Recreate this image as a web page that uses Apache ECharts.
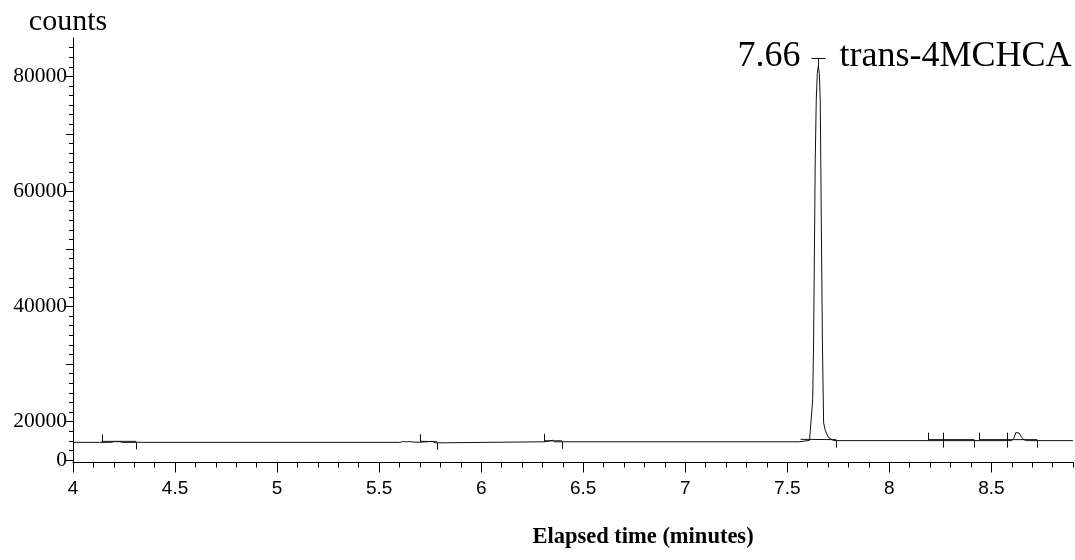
<!DOCTYPE html>
<html>
<head>
<meta charset="utf-8">
<script src="https://cdn.jsdelivr.net/npm/echarts@6/dist/echarts.min.js"></script>
<style>
html,body{margin:0;padding:0;background:#fff;}
#chart{width:1075px;height:560px;}
</style>
</head>
<body>
<div id="chart"></div>
<script>
// ---- data ----
const times  = [4.00, 4.13, 4.19, 4.20, 4.23, 4.24, 5.60, 5.62, 5.635, 5.65, 5.67, 5.70, 5.705, 5.76, 5.775, 5.83, 5.835,
                6.31, 6.315, 6.35, 6.36, 7.56, 7.565, 7.609, 7.6245, 7.629, 7.637, 7.642, 7.647, 7.652, 7.657, 7.6615,
                7.664, 7.672, 7.678, 7.686, 7.701, 7.726, 8.600, 8.610, 8.620, 8.628, 8.637, 8.648, 8.660, 8.676, 8.900];
const counts = [16400, 16400, 16400, 16520, 16520, 16400, 16400, 16550, 16480, 16560, 16430, 16420, 16580, 16580, 16330, 16330, 16500,
                16500, 16750, 16750, 16500, 16500, 16750, 16750, 23800, 34200, 65500, 75900, 80500, 81800, 80500, 75900,
                65500, 34200, 19800, 18500, 17300, 16700, 16700, 17100, 18100, 18400, 18000, 17300, 16850, 16700, 16700];

// integration tick marks on the trace
const markerTimes = [4.14, 4.31, 5.70, 5.784, 6.31, 6.395, 7.74, 8.19, 8.265, 8.417, 8.44, 8.578, 8.725];
const markerKinds = ['up', 'down', 'up', 'down', 'up', 'down', 'down', 'up', 'cross', 'down', 'up', 'cross', 'down'];

// integration baselines (start / end times)
const segStarts = [4.14, 5.70, 6.31, 7.565, 8.19, 8.44];
const segEnds   = [4.31, 5.784, 6.395, 7.74, 8.417, 8.725];

// peak annotation
const peakTimes  = [7.652];
const peakLabels = ['7.66'];
const peakNames  = ['trans-4MCHCA'];

// axis ticks
const xMin = 4, xMax = 8.9;
const xMajorTicks  = [4, 4.5, 5, 5.5, 6, 6.5, 7, 7.5, 8, 8.5];
const yMin = 12900, yMax = 86666.67;
const yLabelValues = [13333.33, 20000, 40000, 60000, 80000];
const yLabelTexts  = ['0', '20000', '40000', '60000', '80000'];
const yMidTicks    = [13333.33, 20000, 30000, 40000, 50000, 60000, 70000, 80000];
const yMinorStep   = 1666.667;

// ---- helpers ----
function valueAt(t) {
  for (let i = 0; i < times.length - 1; i++) {
    if (t >= times[i] && t <= times[i + 1]) {
      const f = (t - times[i]) / (times[i + 1] - times[i]);
      return counts[i] + f * (counts[i + 1] - counts[i]);
    }
  }
  return counts[counts.length - 1];
}
const xMinorTicks = [];
for (let k = 0; Math.round((4 + k * 0.1) * 10) / 10 <= xMax + 1e-9; k++) xMinorTicks.push(Math.round((4 + k * 0.1) * 10) / 10);
const yMinorTicks = [];
for (let v = 13333.33; v <= yMax + 1; v += yMinorStep) yMinorTicks.push(v);

const traceData  = times.map((t, i) => [t, counts[i]]);
const markerData = markerTimes.map((t, i) => [t, valueAt(t), markerKinds[i]]);
const segData    = segStarts.map((s, i) => [s, valueAt(s), segEnds[i], valueAt(segEnds[i])]);
const peakData   = peakTimes.map((t, i) => [t, valueAt(t), peakLabels[i], peakNames[i]]);

const lineColor = '#111';

const chart = echarts.init(document.getElementById('chart'), null, {renderer: 'canvas'});
chart.setOption({
  animation: false,
  backgroundColor: '#fff',
  title: [
    {text: 'counts', left: 68, top: 7, textAlign: 'center', padding: 0,
     textStyle: {fontFamily: 'Liberation Serif', fontSize: 30, fontWeight: 'normal', color: '#000'}},
    {text: 'Elapsed time (minutes)', left: 643, top: 526, textAlign: 'center', padding: 0,
     textStyle: {fontFamily: 'Liberation Serif', fontSize: 22.5, fontWeight: 'bold', color: '#000'}}
  ],
  grid: {left: 73, right: 2, top: 38, bottom: 97.5, containLabel: false},
  xAxis: [
    {type: 'value', min: xMin, max: xMax, position: 'bottom',
     axisLine: {show: true, lineStyle: {color: '#000', width: 1}},
     axisTick: {show: true, length: 5, customValues: xMinorTicks, lineStyle: {color: '#000'}},
     axisLabel: {show: false}, splitLine: {show: false}},
    {type: 'value', min: xMin, max: xMax, position: 'bottom',
     axisLine: {show: false},
     axisTick: {show: true, length: 10, customValues: xMajorTicks, lineStyle: {color: '#000'}},
     axisLabel: {show: true, customValues: xMajorTicks, margin: 17, fontFamily: 'Liberation Sans', fontSize: 19, color: '#000',
                 formatter: v => String(v)},
     splitLine: {show: false}}
  ],
  yAxis: [
    {type: 'value', min: yMin, max: yMax, position: 'left',
     axisLine: {show: true, lineStyle: {color: '#000', width: 1}},
     axisTick: {show: true, length: 7, customValues: yMidTicks, lineStyle: {color: '#000'}},
     axisLabel: {show: true, customValues: yLabelValues, margin: 6, fontFamily: 'Liberation Serif', fontSize: 21.5, color: '#000',
                 formatter: v => {
                   let best = 0;
                   yLabelValues.forEach((lv, i) => { if (Math.abs(lv - v) < Math.abs(yLabelValues[best] - v)) best = i; });
                   return yLabelTexts[best];
                 }},
     splitLine: {show: false}},
    {type: 'value', min: yMin, max: yMax, position: 'left',
     axisLine: {show: false},
     axisTick: {show: true, length: 4, customValues: yMinorTicks, lineStyle: {color: '#000'}},
     axisLabel: {show: false}, splitLine: {show: false}}
  ],
  series: [
    {type: 'line', xAxisIndex: 0, yAxisIndex: 0, data: traceData, showSymbol: false, symbol: 'none',
     lineStyle: {color: lineColor, width: 1}, z: 3},
    {type: 'custom', xAxisIndex: 0, yAxisIndex: 0, data: segData, clip: false, z: 4,
     renderItem: (params, api) => {
       const a = api.coord([api.value(0), api.value(1)]);
       const b = api.coord([api.value(2), api.value(3)]);
       return {type: 'line', shape: {x1: a[0], y1: a[1] - 1, x2: b[0], y2: b[1] - 1},
               style: {stroke: lineColor, lineWidth: 1}};
     }},
    {type: 'custom', xAxisIndex: 0, yAxisIndex: 0, data: markerData, clip: false, z: 5,
     renderItem: (params, api) => {
       const p = api.coord([api.value(0), api.value(1)]);
       const kind = markerData[params.dataIndex][2];
       const up = (kind === 'up' || kind === 'cross') ? 8 : 0;
       const down = (kind === 'down' || kind === 'cross') ? 7 : 0;
       const x = Math.round(p[0]) + 0.5;
       return {type: 'line', shape: {x1: x, y1: p[1] - up, x2: x, y2: p[1] + down},
               style: {stroke: lineColor, lineWidth: 1}};
     }},
    {type: 'custom', xAxisIndex: 0, yAxisIndex: 0, data: peakData, clip: false, z: 6,
     renderItem: (params, api) => {
       const p = api.coord([api.value(0), api.value(1)]);
       const d = peakData[params.dataIndex];
       const x = Math.round(p[0]) + 0.5;
       const yTop = Math.round(p[1] - 8) + 0.5;
       return {type: 'group', children: [
         {type: 'line', shape: {x1: x, y1: p[1], x2: x, y2: yTop}, style: {stroke: lineColor, lineWidth: 1}},
         {type: 'line', shape: {x1: x - 7, y1: yTop, x2: x + 7, y2: yTop}, style: {stroke: lineColor, lineWidth: 1}},
         {type: 'text', style: {text: d[2], x: x - 18, y: yTop - 2, align: 'right', verticalAlign: 'middle',
                                font: '36px "Liberation Serif"', fill: '#000'}},
         {type: 'text', style: {text: d[3], x: x + 21, y: yTop - 2, align: 'left', verticalAlign: 'middle',
                                font: '36px "Liberation Serif"', fill: '#000'}}
       ]};
     }}
  ]
});
</script>
</body>
</html>
